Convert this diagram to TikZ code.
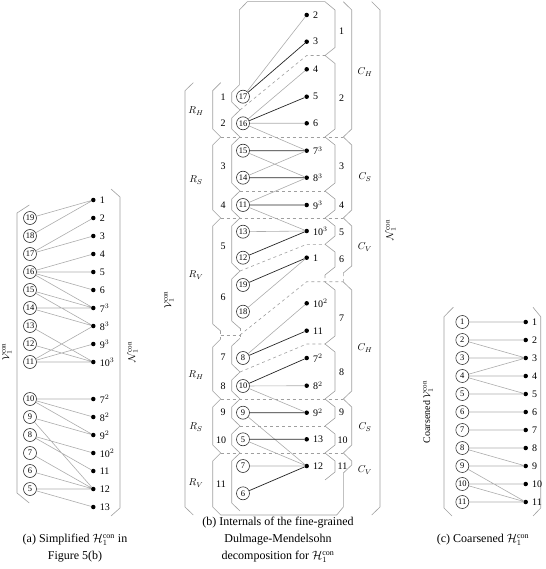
\documentclass[tikz,border=0pt]{standalone}
\usepackage{fontspec}
\setmainfont{Liberation Serif}
\usepackage{amsmath}
\usepackage{tikz}

\tikzset{
  vnode/.style={circle,draw=black!80,line width=0.6pt,inner sep=0pt,minimum size=13pt,font=\fontsize{8.5}{9}\selectfont},
  dnode/.style={circle,fill=black,inner sep=0pt,minimum size=4.5pt,label={[font=\fontsize{10}{11}\selectfont,label distance=0.5pt]right:#1}},
  lite/.style={gray!65,line width=0.6pt},
  dark/.style={black!85,line width=0.7pt},
  brk/.style={gray!75,line width=0.6pt},
  sep/.style={gray!75,dashed,line width=0.6pt},
  lbl/.style={font=\fontsize{10}{11}\selectfont,inner sep=0pt},
  captxt/.style={font=\fontsize{12}{17}\selectfont,align=center}
}

\begin{document}
\begin{tikzpicture}[x=1pt,y=-1pt]
\useasboundingbox (0,0) rectangle (545,569);

% (a) simplified hypergraph
\draw[brk] (29.3,205) -- (17,213) -- (17,493) -- (29.3,503);
\draw[brk] (111,189) -- (120,197) -- (120,508) -- (111,516);
\node[lbl,rotate=90] (avlab) at (7,352) {$\mathcal{V}_1^{\mathrm{con}}$};
\node[lbl,rotate=90] (anlab) at (133,352) {$\mathcal{N}_1^{\mathrm{con}}$};

\node[vnode] (a19) at (30,218) {19};
\node[vnode] (a18) at (30,236) {18};
\node[vnode] (a17) at (30,254) {17};
\node[vnode] (a16) at (30,272) {16};
\node[vnode] (a15) at (30,290) {15};
\node[vnode] (a14) at (30,308) {14};
\node[vnode] (a13) at (30,326) {13};
\node[vnode] (a12) at (30,344) {12};
\node[vnode] (a11) at (30,362) {11};
\node[vnode] (a10) at (30,399) {10};
\node[vnode] (a9) at (30,417) {9};
\node[vnode] (a8) at (30,435) {8};
\node[vnode] (a7) at (30,453) {7};
\node[vnode] (a6) at (30,471) {6};
\node[vnode] (a5) at (30,489) {5};

\node[dnode=1] (an1) at (93.3,200) {};
\node[dnode=2] (an2) at (93.3,218) {};
\node[dnode=3] (an3) at (93.3,236) {};
\node[dnode=4] (an4) at (93.3,254) {};
\node[dnode=5] (an5) at (93.3,272) {};
\node[dnode=6] (an6) at (93.3,290) {};
\node[dnode={7$^3$}] (an7t) at (93.3,308) {};
\node[dnode={8$^3$}] (an8t) at (93.3,326) {};
\node[dnode={9$^3$}] (an9t) at (93.3,344) {};
\node[dnode={10$^3$}] (an10t) at (93.3,362) {};
\node[dnode={7$^2$}] (an7s) at (93.3,399) {};
\node[dnode={8$^2$}] (an8s) at (93.3,417) {};
\node[dnode={9$^2$}] (an9s) at (93.3,435) {};
\node[dnode={10$^2$}] (an10s) at (93.3,453) {};
\node[dnode=11] (an11) at (93.3,471) {};
\node[dnode=12] (an12) at (93.3,489) {};
\node[dnode=13] (an13) at (93.3,507) {};

\draw[lite] (a19) -- (an1) (a18) -- (an1) (a17) -- (an2) (a17) -- (an3)
  (a16) -- (an4) (a16) -- (an5) (a16) -- (an6) (a16) -- (an7t)
  (a15) -- (an7t) (a15) -- (an8t) (a14) -- (an7t) (a14) -- (an8t)
  (a13) -- (an10t) (a12) -- (an10t) (a11) -- (an8t) (a11) -- (an9t) (a11) -- (an10t);
\draw[lite] (a10) -- (an7s) (a10) -- (an8s) (a10) -- (an9s) (a9) -- (an9s) (a9) -- (an12)
  (a8) -- (an10s) (a8) -- (an11) (a7) -- (an12) (a6) -- (an12) (a5) -- (an12) (a5) -- (an13);

\node[captxt] (acap) at (75,548) {(a) Simplified $\mathcal{H}_1^{\mathrm{con}}$ in\\Figure 5(b)};

% (b) fine-grained DM decomposition
\draw[brk] (193.3,82.7) -- (185,90.7) -- (185,507) -- (193.3,515);
\draw[brk] (371.7,1.7) -- (380,10) -- (380,507) -- (371.7,515);
\node[lbl,rotate=90] (bvlab) at (169,300) {$\mathcal{V}_1^{\mathrm{con}}$};
\node[lbl,rotate=90] (bnlab) at (391,230) {$\mathcal{N}_1^{\mathrm{con}}$};

% coarse brackets
\draw[brk] (220.7,82.7) -- (212.7,90.7) -- (212.7,129) -- (220.7,137) -- (212.7,145) -- (212.7,210)
  -- (220.7,218) -- (212.7,226) -- (212.7,324) -- (220.7,331);
\draw[brk] (220.7,339) -- (212.7,347) -- (212.7,391) -- (220.7,399) -- (212.7,407) -- (212.7,445)
  -- (220.7,453) -- (212.7,461) -- (212.7,507) -- (220.7,515) -- (336.7,515) -- (343.3,507)
  -- (343.3,473) -- (351.7,465) -- (351.7,461) -- (343.3,453) -- (351.7,445) -- (351.7,407)
  -- (343.3,399) -- (351.7,391) -- (351.7,290) -- (343.3,282);
\draw[brk] (343.3,273) -- (351.7,266) -- (351.7,226) -- (343.3,218) -- (351.7,210) -- (351.7,145)
  -- (343.3,137) -- (351.7,129) -- (351.7,10) -- (343.3,1.7);

% fine brackets
\draw[brk] (239.3,85) -- (239.3,10) -- (247.3,1.7) -- (325,1.7) -- (335,10);
\draw[brk] (239.3,85) -- (231.7,92.5) -- (231.7,102) -- (240,110) -- (231.7,118) -- (231.7,129)
  -- (240,137) -- (231.7,145) -- (231.7,183) -- (240,191) -- (231.7,199) -- (231.7,210)
  -- (240,218) -- (231.7,226) -- (231.7,263) -- (240,271) -- (231.7,279) -- (231.7,321) -- (240,328.3);
\draw[brk] (240,338.3) -- (231.7,346) -- (231.7,364) -- (240,372) -- (231.7,380) -- (231.7,391)
  -- (240,399) -- (231.7,407) -- (231.7,418) -- (240,426) -- (231.7,434) -- (231.7,445)
  -- (240,453) -- (231.7,461) -- (231.7,503) -- (240,511);
\draw[brk] (335,10) -- (335,47.5) -- (325,55.5) -- (335,63.5) -- (335,129) -- (325,137) -- (335,145)
  -- (335,183) -- (325,191) -- (335,199) -- (335,210) -- (325,218) -- (335,226) -- (335,236)
  -- (325,244.3) -- (335,252) -- (335,267) -- (325,275);
\draw[brk] (325,282) -- (335,290) -- (335,336) -- (325,344) -- (335,352) -- (335,391) -- (325,399)
  -- (335,407) -- (335,418) -- (325,426) -- (335,434) -- (335,445) -- (325,453) -- (335,461)
  -- (335,472) -- (325,480);

% separators
\draw[sep] (240,110) -- (306.7,55.5) -- (325,55.5);
\draw[sep] (220.7,137) -- (343.3,137);
\draw[sep] (240,191) -- (325,191);
\draw[sep] (220.7,218) -- (343.3,218);
\draw[sep] (240,271) -- (306.7,244.3) -- (325,244.3);
\draw[sep] (220.7,331) -- (220.7,339) (220.7,335) -- (240,335) (240,328.3) -- (240,338.3);
\draw[sep] (240,335) -- (306.7,281.7) -- (343.3,281.7) (325,275) -- (325,282) (343.3,273) -- (343.3,282);
\draw[sep] (240,372) -- (306.7,344) -- (325,344);
\draw[sep] (220.7,399) -- (343.3,399);
\draw[sep] (240,426) -- (325,426);
\draw[sep] (220.7,453) -- (343.3,453);

% block labels
\node[lbl] (rh1) at (196,111) {$R_H$};
\node[lbl] (rs1) at (196,180) {$R_S$};
\node[lbl] (rv1) at (196,275) {$R_V$};
\node[lbl] (rh2) at (196,375) {$R_H$};
\node[lbl] (rs2) at (196,427) {$R_S$};
\node[lbl] (rv2) at (196,483) {$R_V$};
\node[lbl] (ch1) at (365,72) {$C_H$};
\node[lbl] (cs1) at (365,177) {$C_S$};
\node[lbl] (cv1) at (365,247) {$C_V$};
\node[lbl] (ch2) at (365,348) {$C_H$};
\node[lbl] (cs2) at (365,427) {$C_S$};
\node[lbl] (cv2) at (365,470) {$C_V$};

\node[lbl] (r1) at (223,97.7) {1};
\node[lbl] (r2) at (223,123.3) {2};
\node[lbl] (r3) at (223,166) {3};
\node[lbl] (r4) at (223,205) {4};
\node[lbl] (r5) at (223,246.7) {5};
\node[lbl] (r6) at (223,297.7) {6};
\node[lbl] (r7) at (223,357.7) {7};
\node[lbl] (r8) at (223,386) {8};
\node[lbl] (r9) at (223,412.7) {9};
\node[lbl] (r10) at (221,440) {10};
\node[lbl] (r11) at (221,484) {11};
\node[lbl] (c1) at (341.7,31.7) {1};
\node[lbl] (c2) at (341.7,97.7) {2};
\node[lbl] (c3) at (341.7,166) {3};
\node[lbl] (c4) at (341.7,205) {4};
\node[lbl] (c5) at (341.7,232) {5};
\node[lbl] (c6) at (341.7,259) {6};
\node[lbl] (c7) at (341.7,318.3) {7};
\node[lbl] (c8) at (341.7,372.3) {8};
\node[lbl] (c9) at (341.7,412.7) {9};
\node[lbl] (c10) at (342.5,440) {10};
\node[lbl] (c11) at (342.5,466) {11};

\node[vnode] (b17) at (243,96.7) {17};
\node[vnode] (b16) at (243,123.3) {16};
\node[vnode] (b15) at (243,150.7) {15};
\node[vnode] (b14) at (243,177.7) {14};
\node[vnode] (b11) at (243,205) {11};
\node[vnode] (b13) at (243,231.7) {13};
\node[vnode] (b12) at (243,257.7) {12};
\node[vnode] (b19) at (243,285) {19};
\node[vnode] (b18) at (243,311.7) {18};
\node[vnode] (b8) at (243,358) {8};
\node[vnode] (b10) at (243,386) {10};
\node[vnode] (b9) at (243,412.7) {9};
\node[vnode] (b5) at (243,439.3) {5};
\node[vnode] (b7) at (243,466) {7};
\node[vnode] (b6) at (243,493.3) {6};

\node[dnode=2] (bn2) at (306.7,15) {};
\node[dnode=3] (bn3) at (306.7,41.7) {};
\node[dnode=4] (bn4) at (306.7,69.3) {};
\node[dnode=5] (bn5) at (306.7,96.7) {};
\node[dnode=6] (bn6) at (306.7,123.3) {};
\node[dnode={7$^3$}] (bn7t) at (306.7,150.7) {};
\node[dnode={8$^3$}] (bn8t) at (306.7,177.7) {};
\node[dnode={9$^3$}] (bn9t) at (306.7,205) {};
\node[dnode={10$^3$}] (bn10t) at (306.7,231) {};
\node[dnode=1] (bn1) at (306.7,257.7) {};
\node[dnode={10$^2$}] (bn10s) at (306.7,303.3) {};
\node[dnode=11] (bn11) at (306.7,330.7) {};
\node[dnode={7$^2$}] (bn7s) at (306.7,358) {};
\node[dnode={8$^2$}] (bn8s) at (306.7,385.7) {};
\node[dnode={9$^2$}] (bn9s) at (306.7,412.7) {};
\node[dnode=13] (bn13) at (306.7,439.3) {};
\node[dnode=12] (bn12) at (306.7,466) {};

\draw[lite] (b17) -- (bn2) (b16) -- (bn4) (b16) -- (bn6) (b16) -- (bn7t) (b15) -- (bn8t)
  (b14) -- (bn7t) (b11) -- (bn8t) (b11) -- (bn10t) (b13) -- (bn10t) (b18) -- (bn1)
  (b8) -- (bn10s) (b10) -- (bn8s) (b10) -- (bn9s) (b9) -- (bn12) (b5) -- (bn12) (b7) -- (bn12);
\draw[dark] (b17) -- (bn3) (b16) -- (bn5) (b15) -- (bn7t) (b14) -- (bn8t)
  (b11) -- (bn9t) (b12) -- (bn10t) (b19) -- (bn1) (b8) -- (bn11) (b10) -- (bn7s)
  (b9) -- (bn9s) (b5) -- (bn13) (b6) -- (bn12);

\node[captxt] (bcap) at (278,540) {(b) Internals of the fine-grained\\Dulmage-Mendelsohn\\decomposition for $\mathcal{H}_1^{\mathrm{con}}$};

% (c) coarsened hypergraph
\draw[brk] (453.3,307.3) -- (444,316.7) -- (444,508) -- (452,516);
\draw[brk] (533,307.3) -- (540.7,316.7) -- (540.7,508) -- (533,516);
\node[lbl,rotate=90] (cvlab) at (428,412) {Coarsened $\mathcal{V}_1^{\mathrm{con}}$};

\node[vnode] (c1v) at (462.3,322) {1};
\node[vnode] (c2v) at (462.3,340) {2};
\node[vnode] (c3v) at (462.3,358) {3};
\node[vnode] (c4v) at (462.3,376) {4};
\node[vnode] (c5v) at (462.3,394) {5};
\node[vnode] (c6v) at (462.3,412) {6};
\node[vnode] (c7v) at (462.3,430) {7};
\node[vnode] (c8v) at (462.3,448) {8};
\node[vnode] (c9v) at (462.3,466) {9};
\node[vnode] (c10v) at (462.3,484) {10};
\node[vnode] (c11v) at (462.3,502) {11};

\node[dnode=1] (c1n) at (525.7,322) {};
\node[dnode=2] (c2n) at (525.7,340) {};
\node[dnode=3] (c3n) at (525.7,358) {};
\node[dnode=4] (c4n) at (525.7,376) {};
\node[dnode=5] (c5n) at (525.7,394) {};
\node[dnode=6] (c6n) at (525.7,412) {};
\node[dnode=7] (c7n) at (525.7,430) {};
\node[dnode=8] (c8n) at (525.7,448) {};
\node[dnode=9] (c9n) at (525.7,466) {};
\node[dnode=10] (c10n) at (525.7,484) {};
\node[dnode=11] (c11n) at (525.7,502) {};

\draw[lite] (c1v) -- (c1n) (c2v) -- (c2n) (c2v) -- (c3n) (c3v) -- (c3n) (c4v) -- (c3n)
  (c4v) -- (c4n) (c4v) -- (c5n) (c5v) -- (c5n) (c6v) -- (c6n) (c7v) -- (c7n)
  (c8v) -- (c8n) (c8v) -- (c9n) (c9v) -- (c9n) (c9v) -- (c11n) (c10v) -- (c10n)
  (c10v) -- (c11n) (c11v) -- (c11n);

\node[captxt] (ccap) at (483,540) {(c) Coarsened $\mathcal{H}_1^{\mathrm{con}}$};
\end{tikzpicture}
\end{document}
